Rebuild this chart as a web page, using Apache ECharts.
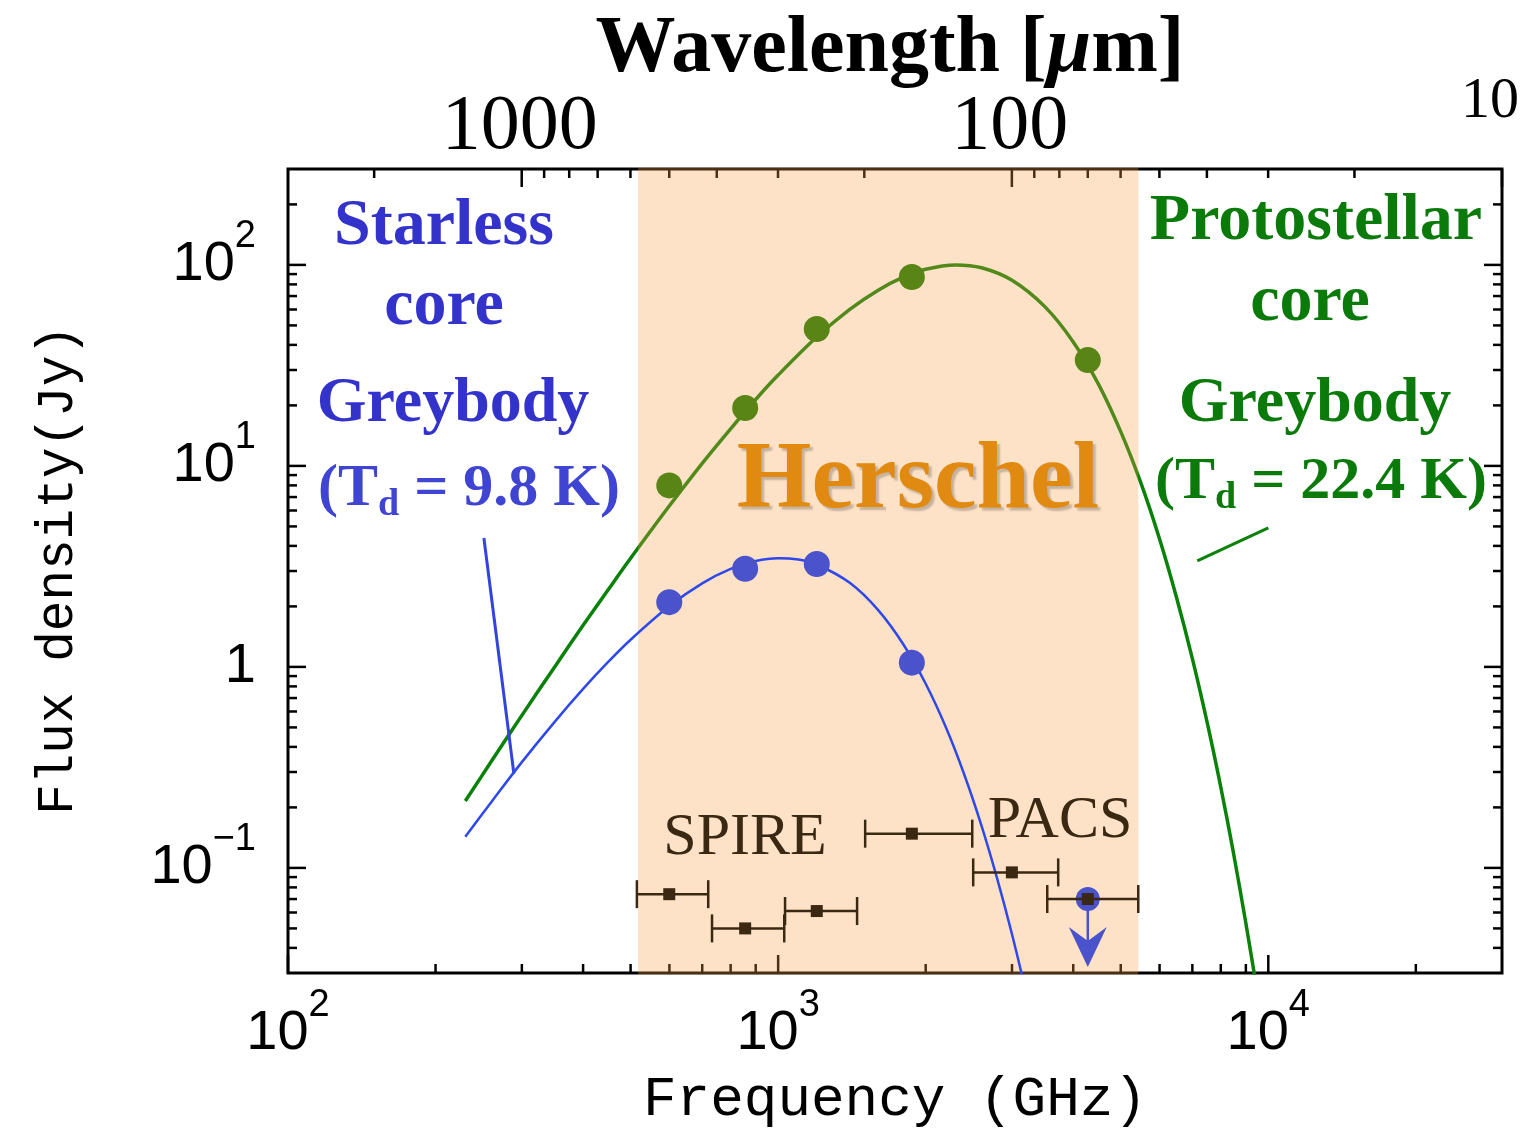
<!DOCTYPE html>
<html>
<head>
<meta charset="utf-8">
<script src="https://cdn.jsdelivr.net/npm/echarts@6/dist/echarts.min.js"></script>
<style>
html,body{margin:0;padding:0;background:#fff;}
#chart{width:1532px;height:1138px;}
</style>
</head>
<body>
<div id="chart"></div>
<script>
// ---------------- data ----------------
// Protostellar core greybody (Td = 22.4 K) curve: frequency (GHz), flux (Jy)
var greenCurveFreq = [230, 260, 300, 350, 400, 450, 500, 600, 700, 800, 900, 1000, 1200, 1400, 1600, 1800, 2000, 2300, 2600, 3000, 3500, 4000, 4500, 5000, 5500, 6000, 6500, 7000, 7500, 8000, 8500, 9000, 9500];
var greenCurveFlux = [0.215, 0.339, 0.574, 1.00, 1.61, 2.42, 3.47, 6.33, 10.3, 15.3, 21.4, 28.3, 43.9, 60.1, 74.9, 86.9, 95.2, 100.0, 96.8, 83.9, 62.0, 41.4, 25.6, 14.8, 8.18, 4.33, 2.21, 1.10, 0.532, 0.252, 0.117, 0.053, 0.024];
// Starless core greybody (Td = 9.8 K) curve
var blueCurveFreq = [230, 260, 300, 350, 400, 450, 500, 600, 700, 800, 900, 1000, 1100, 1200, 1400, 1600, 1800, 2000, 2200, 2400, 2600, 2800, 3000, 3200, 3400];
var blueCurveFlux = [0.143, 0.213, 0.336, 0.533, 0.777, 1.058, 1.365, 2.008, 2.604, 3.071, 3.365, 3.475, 3.420, 3.232, 2.619, 1.916, 1.296, 0.824, 0.499, 0.289, 0.162, 0.088, 0.0468, 0.0243, 0.0123];
// Herschel photometry (500, 350, 250, 160 um; 70 um for protostellar)
var greenPointFreq = [599.6, 856.5, 1199, 1874, 4283];
var greenPointFlux = [8.0, 19.4, 48.0, 87.0, 33.6];
var bluePointFreq = [599.6, 856.5, 1199, 1874];
var bluePointFlux = [2.10, 3.08, 3.25, 1.05];
var blueLimitFreq = [4283];
var blueLimitFlux = [0.070];
// instrument bands (SPIRE: 500/350/250, PACS: 160/100/70 um)
var bandCenter = [599.6, 856.5, 1199, 1874, 2998, 4283];
var bandFlux = [0.074, 0.050, 0.061, 0.148, 0.095, 0.070];
var bandLow = [515, 733, 1033, 1505, 2500, 3540];
var bandHigh = [720, 1029, 1449, 2489, 3727, 5429];
// Herschel coverage (GHz)
var herschelRange = [518, 5430];
// pointer strokes [freqA, fluxA, freqB, fluxB]
var bluePointer = [251, 4.38, 289, 0.294];
var greenPointer = [10000, 4.92, 7163, 3.37];
// ticks
var freqMajor = [100, 1000, 10000];
var freqMinor = [200, 300, 400, 500, 600, 700, 800, 900, 2000, 3000, 4000, 5000, 6000, 7000, 8000, 9000, 20000];
var fluxMajor = [0.1, 1, 10, 100];
var fluxMinor = [0.04, 0.05, 0.06, 0.07, 0.08, 0.09, 0.2, 0.3, 0.4, 0.5, 0.6, 0.7, 0.8, 0.9, 2, 3, 4, 5, 6, 7, 8, 9, 20, 30, 40, 50, 60, 70, 80, 90, 200];
var waveMajor = [1000, 100, 10];
var waveMinor = [2000, 900, 800, 700, 600, 500, 400, 300, 200, 90, 80, 70, 60, 50, 40, 30, 20];
var waveLabels = ['1000', '100', '10'];

// ---------------- chart ----------------
var C_UM_GHZ = 299792.458;
function zip(a, b) { return a.map(function (v, i) { return [v, b[i]]; }); }
var NUMFONT = 'Liberation Sans';
var SERIF = 'Liberation Serif';
var MONO = 'Liberation Mono';

function powLabel(v) {
  var l = Math.log10(v), e = Math.round(l);
  if (Math.abs(l - e) > 1e-6) return '';
  if (e === 0) return '{b|1}';
  return '{b|10}{s|' + (e < 0 ? '\u2212' : '') + Math.abs(e) + '}';
}
var labelRich = {
  b: { fontSize: 56, fontFamily: NUMFONT, color: '#000', lineHeight: 94 },
  s: { fontSize: 38, fontFamily: NUMFONT, color: '#000', lineHeight: 38, verticalAlign: 'top' }
};

var chart = echarts.init(document.getElementById('chart'), null, { renderer: 'canvas' });

var option = {
  animation: false,
  backgroundColor: '#fff',
  grid: { left: 288, right: 30, top: 169, bottom: 165, show: true, borderColor: '#000', borderWidth: 3, backgroundColor: 'transparent' },
  xAxis: {
    type: 'log', logBase: 10, min: 100, max: 29979,
    axisLine: { show: false }, axisTick: { show: false }, splitLine: { show: false },
    axisLabel: { formatter: powLabel, rich: labelRich, margin: 14, showMinLabel: true, showMaxLabel: true }
  },
  yAxis: {
    type: 'log', logBase: 10, min: 0.03, max: 300,
    axisLine: { show: false }, axisTick: { show: false }, splitLine: { show: false },
    axisLabel: { formatter: powLabel, rich: labelRich, margin: 32 }
  },
  series: [
    {
      name: 'protostellar model', type: 'line', z: 2, data: zip(greenCurveFreq, greenCurveFlux),
      showSymbol: false, smooth: 0.35, lineStyle: { color: '#0a820a', width: 3.5 }, clip: true
    },
    {
      name: 'protostellar data', type: 'scatter', z: 3, data: zip(greenPointFreq, greenPointFlux),
      symbol: 'circle', symbolSize: 26, itemStyle: { color: '#147a00', opacity: 1 }
    },
    {
      name: 'ticks', type: 'custom', z: 4, data: [[100, 1]], silent: true,
      renderItem: function (params, api) {
        var cs = params.coordSys;
        var left = cs.x, right = cs.x + cs.width, top = cs.y, bottom = cs.y + cs.height;
        var ch = [];
        function seg(x1, y1, x2, y2) {
          ch.push({ type: 'line', shape: { x1: x1, y1: y1, x2: x2, y2: y2 }, style: { stroke: '#000', lineWidth: 2.5 } });
        }
        var MAJ = 18, MIN = 9;
        freqMajor.forEach(function (v) { var x = api.coord([v, 1])[0]; seg(x, bottom, x, bottom - MAJ); });
        freqMinor.forEach(function (v) { var x = api.coord([v, 1])[0]; seg(x, bottom, x, bottom - MIN); });
        fluxMajor.forEach(function (v) { var y = api.coord([100, v])[1]; seg(left, y, left + MAJ, y); seg(right, y, right - MAJ, y); });
        fluxMinor.forEach(function (v) { var y = api.coord([100, v])[1]; seg(left, y, left + MIN, y); seg(right, y, right - MIN, y); });
        waveMajor.forEach(function (w) { var x = api.coord([C_UM_GHZ / w, 1])[0]; seg(x, top, x, top + MAJ); });
        waveMinor.forEach(function (w) { var x = api.coord([C_UM_GHZ / w, 1])[0]; seg(x, top, x, top + MIN); });
        waveMajor.forEach(function (w, i) {
          var x = api.coord([C_UM_GHZ / w, 1])[0];
          var last = i === waveMajor.length - 1;
          ch.push({ type: 'text', x: last ? x - 12 : x - 2, y: last ? top - 67 : top - 41,
            style: { text: waveLabels[i], fill: '#000', font: (last ? 58 : 78) + 'px "' + SERIF + '"', textAlign: 'center', textVerticalAlign: 'middle' } });
        });
        return { type: 'group', children: ch };
      }
    },
    {
      name: 'Herschel band', type: 'custom', z: 10, data: [herschelRange], silent: true,
      renderItem: function (params, api) {
        var cs = params.coordSys;
        var x1 = api.coord([api.value(0), 1])[0], x2 = api.coord([api.value(1), 1])[0];
        return { type: 'rect', shape: { x: x1, y: cs.y - 1.5, width: x2 - x1, height: cs.height + 3 }, style: { fill: 'rgba(250,160,70,0.30)' } };
      }
    },
    {
      name: 'starless model', type: 'line', z: 12, data: zip(blueCurveFreq, blueCurveFlux),
      showSymbol: false, smooth: 0.35, lineStyle: { color: '#2e48ea', width: 2.5 }, clip: true
    },
    {
      name: 'starless data', type: 'scatter', z: 13, data: zip(bluePointFreq, bluePointFlux),
      symbol: 'circle', symbolSize: 26, itemStyle: { color: '#4a52cc', opacity: 1 }
    },
    {
      name: 'starless upper limit', type: 'custom', z: 13, data: zip(blueLimitFreq, blueLimitFlux), silent: true,
      renderItem: function (params, api) {
        var p = api.coord([api.value(0), api.value(1)]);
        var tipY = p[1] + 68;
        return { type: 'group', children: [
          { type: 'circle', shape: { cx: p[0], cy: p[1], r: 12 }, style: { fill: '#4a52cc' } },
          { type: 'line', shape: { x1: p[0], y1: p[1], x2: p[0], y2: tipY - 10 }, style: { stroke: '#4a52cc', lineWidth: 2.5 } },
          { type: 'polygon', shape: { points: [[p[0], tipY], [p[0] - 19, tipY - 40], [p[0], tipY - 26], [p[0] + 19, tipY - 40]] }, style: { fill: '#4a52cc' } }
        ] };
      }
    },
    {
      name: 'instrument bands', type: 'custom', z: 14, silent: true,
      data: bandCenter.map(function (c, i) { return [c, bandFlux[i], bandLow[i], bandHigh[i]]; }),
      renderItem: function (params, api) {
        var c = api.coord([api.value(0), api.value(1)]);
        var lo = api.coord([api.value(2), api.value(1)]);
        var hi = api.coord([api.value(3), api.value(1)]);
        var col = '#3b2812', cap = 14;
        return { type: 'group', children: [
          { type: 'line', shape: { x1: lo[0], y1: c[1], x2: hi[0], y2: c[1] }, style: { stroke: col, lineWidth: 2.5 } },
          { type: 'line', shape: { x1: lo[0], y1: c[1] - cap, x2: lo[0], y2: c[1] + cap }, style: { stroke: col, lineWidth: 2.5 } },
          { type: 'line', shape: { x1: hi[0], y1: c[1] - cap, x2: hi[0], y2: c[1] + cap }, style: { stroke: col, lineWidth: 2.5 } },
          { type: 'rect', shape: { x: c[0] - 6, y: c[1] - 6, width: 12, height: 12 }, style: { fill: col } }
        ] };
      }
    },
    {
      name: 'pointers', type: 'custom', z: 12, silent: true,
      data: [bluePointer.concat([0]), greenPointer.concat([1])],
      renderItem: function (params, api) {
        var a = api.coord([api.value(0), api.value(1)]);
        var b = api.coord([api.value(2), api.value(3)]);
        var col = api.value(4) === 0 ? '#3344dd' : '#0a820a';
        return { type: 'line', shape: { x1: a[0], y1: a[1], x2: b[0], y2: b[1] }, style: { stroke: col, lineWidth: 3 } };
      }
    }
  ],
  graphic: [
    { type: 'text', x: 890, y: 50, z: 20, style: { text: '{t|Wavelength [}{i|\u03bc}{t|m]}', textAlign: 'center', textVerticalAlign: 'middle',
      rich: { t: { fontSize: 80, fontWeight: 'bold', fontFamily: SERIF, fill: '#000' }, i: { fontSize: 80, fontWeight: 'bold', fontStyle: 'italic', fontFamily: SERIF, fill: '#000' } } } },
    { type: 'text', x: 895, y: 1100, z: 20, style: { text: 'Frequency (GHz)', font: '56px "' + MONO + '"', fill: '#000', textAlign: 'center', textVerticalAlign: 'middle' } },
    { type: 'text', x: 58, y: 570, rotation: Math.PI / 2, z: 20, style: { text: 'Flux density(Jy)', font: '51px "' + MONO + '"', fill: '#000', textAlign: 'center', textVerticalAlign: 'middle' } },

    { type: 'text', x: 444, y: 227, z: 20, style: { text: 'Starless', font: 'bold 66px "' + SERIF + '"', fill: '#3333cc', textAlign: 'center', textVerticalAlign: 'middle' } },
    { type: 'text', x: 444, y: 307, z: 20, style: { text: 'core', font: 'bold 66px "' + SERIF + '"', fill: '#3333cc', textAlign: 'center', textVerticalAlign: 'middle' } },
    { type: 'text', x: 453, y: 404, z: 20, style: { text: 'Greybody', font: 'bold 64px "' + SERIF + '"', fill: '#3333cc', textAlign: 'center', textVerticalAlign: 'middle' } },
    { type: 'text', x: 469, y: 494, z: 20, style: { text: '{m|(T}{d|d}{m| = 9.8 K)}', textAlign: 'center', textVerticalAlign: 'middle',
      rich: { m: { fontSize: 60, fontWeight: 'bold', fontFamily: SERIF, fill: '#3f45d2', lineHeight: 60, padding: [0, 0, 10, 0] },
              d: { fontSize: 38, fontWeight: 'bold', fontFamily: SERIF, fill: '#3f45d2', lineHeight: 38, verticalAlign: 'bottom' } } } },

    { type: 'text', x: 1316, y: 222, z: 20, style: { text: 'Protostellar', font: 'bold 66px "' + SERIF + '"', fill: '#0a7a0a', textAlign: 'center', textVerticalAlign: 'middle' } },
    { type: 'text', x: 1310, y: 303, z: 20, style: { text: 'core', font: 'bold 66px "' + SERIF + '"', fill: '#0a7a0a', textAlign: 'center', textVerticalAlign: 'middle' } },
    { type: 'text', x: 1315, y: 404, z: 20, style: { text: 'Greybody', font: 'bold 64px "' + SERIF + '"', fill: '#0a7a0a', textAlign: 'center', textVerticalAlign: 'middle' } },
    { type: 'text', x: 1321, y: 487, z: 20, style: { text: '{m|(T}{d|d}{m| = 22.4 K)}', textAlign: 'center', textVerticalAlign: 'middle',
      rich: { m: { fontSize: 60, fontWeight: 'bold', fontFamily: SERIF, fill: '#0a7a0a', lineHeight: 60, padding: [0, 0, 10, 0] },
              d: { fontSize: 38, fontWeight: 'bold', fontFamily: SERIF, fill: '#0a7a0a', lineHeight: 38, verticalAlign: 'bottom' } } } },

    { type: 'text', x: 918, y: 482, z: 20, style: { text: 'Herschel', font: 'bold 96px "' + SERIF + '"', fill: '#e08a12', textAlign: 'center', textVerticalAlign: 'middle',
      textShadowColor: 'rgba(0,0,0,0.22)', textShadowOffsetX: 3, textShadowOffsetY: 3, textShadowBlur: 2 } },
    { type: 'text', x: 745, y: 838, z: 20, style: { text: 'SPIRE', font: '60px "' + SERIF + '"', fill: '#3b2812', textAlign: 'center', textVerticalAlign: 'middle' } },
    { type: 'text', x: 1060, y: 821, z: 20, style: { text: 'PACS', font: '60px "' + SERIF + '"', fill: '#3b2812', textAlign: 'center', textVerticalAlign: 'middle' } }
  ]
};
chart.setOption(option);
</script>
</body>
</html>
